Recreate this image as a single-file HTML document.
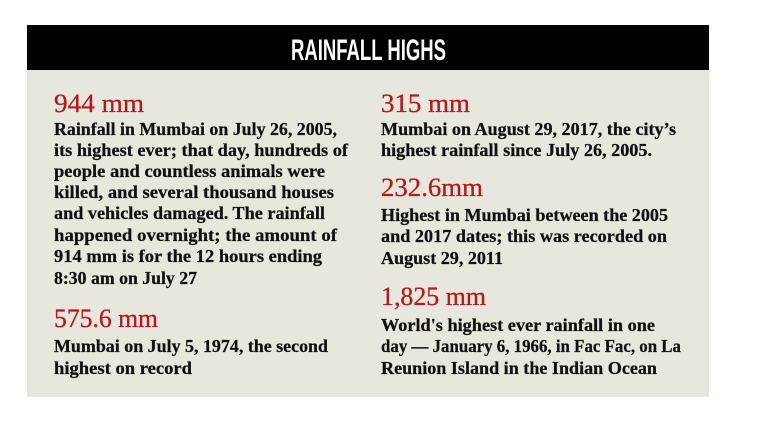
<!DOCTYPE html>
<html><head><meta charset="utf-8"><style>
html,body{margin:0;padding:0;background:#fff;width:759px;height:422px;overflow:hidden}
svg{display:block}
.h{font-family:"Liberation Serif",serif;font-size:26px;fill:#b01a1e;stroke:#b01a1e;stroke-width:0.3}
.b{font-family:"Liberation Serif",serif;font-weight:bold;font-size:18px;fill:#111;stroke:#111;stroke-width:0.25}
</style></head><body>
<svg width="759" height="422" viewBox="0 0 759 422">
<rect x="27" y="25" width="682" height="45" fill="#000"/>
<rect x="27" y="70" width="682" height="327" fill="#e8e7dd"/>
<text x="291" y="60" textLength="155" lengthAdjust="spacingAndGlyphs" font-family="Liberation Sans Narrow, Liberation Sans, sans-serif" font-weight="bold" font-size="30" fill="#fff">RAINFALL HIGHS</text>

<text class="h" x="54" y="112" textLength="90" lengthAdjust="spacingAndGlyphs">944 mm</text>
<text class="b" x="54" y="135" textLength="283" lengthAdjust="spacingAndGlyphs">Rainfall in Mumbai on July 26, 2005,</text>
<text class="b" x="54" y="156" textLength="294" lengthAdjust="spacingAndGlyphs">its highest ever; that day, hundreds of</text>
<text class="b" x="54" y="177" textLength="271" lengthAdjust="spacingAndGlyphs">people and countless animals were</text>
<text class="b" x="54" y="198" textLength="280" lengthAdjust="spacingAndGlyphs">killed, and several thousand houses</text>
<text class="b" x="54" y="219" textLength="271" lengthAdjust="spacingAndGlyphs">and vehicles damaged. The rainfall</text>
<text class="b" x="54" y="241" textLength="283" lengthAdjust="spacingAndGlyphs">happened overnight; the amount of</text>
<text class="b" x="54" y="262" textLength="268" lengthAdjust="spacingAndGlyphs">914 mm is for the 12 hours ending</text>
<text class="b" x="54" y="284" textLength="143" lengthAdjust="spacingAndGlyphs">8:30 am on July 27</text>

<text class="h" x="54" y="327" textLength="104" lengthAdjust="spacingAndGlyphs">575.6 mm</text>
<text class="b" x="54" y="352" textLength="274" lengthAdjust="spacingAndGlyphs">Mumbai on July 5, 1974, the second</text>
<text class="b" x="54" y="374" textLength="138" lengthAdjust="spacingAndGlyphs">highest on record</text>

<text class="h" x="381" y="112" textLength="89" lengthAdjust="spacingAndGlyphs">315 mm</text>
<text class="b" x="381" y="135" textLength="295" lengthAdjust="spacingAndGlyphs">Mumbai on August 29, 2017, the city’s</text>
<text class="b" x="381" y="156" textLength="271" lengthAdjust="spacingAndGlyphs">highest rainfall since July 26, 2005.</text>

<text class="h" x="381" y="196" textLength="102" lengthAdjust="spacingAndGlyphs">232.6mm</text>
<text class="b" x="381" y="221" textLength="287" lengthAdjust="spacingAndGlyphs">Highest in Mumbai between the 2005</text>
<text class="b" x="381" y="242" textLength="286" lengthAdjust="spacingAndGlyphs">and 2017 dates; this was recorded on</text>
<text class="b" x="381" y="264" textLength="122" lengthAdjust="spacingAndGlyphs">August 29, 2011</text>

<text class="h" x="381" y="305" textLength="105" lengthAdjust="spacingAndGlyphs">1,825 mm</text>
<text class="b" x="381" y="331" textLength="274" lengthAdjust="spacingAndGlyphs">World's highest ever rainfall in one</text>
<text class="b" x="381" y="352" textLength="300" lengthAdjust="spacingAndGlyphs">day — January 6, 1966, in Fac Fac, on La</text>
<text class="b" x="381" y="374" textLength="276" lengthAdjust="spacingAndGlyphs">Reunion Island in the Indian Ocean</text>
</svg>
</body></html>
